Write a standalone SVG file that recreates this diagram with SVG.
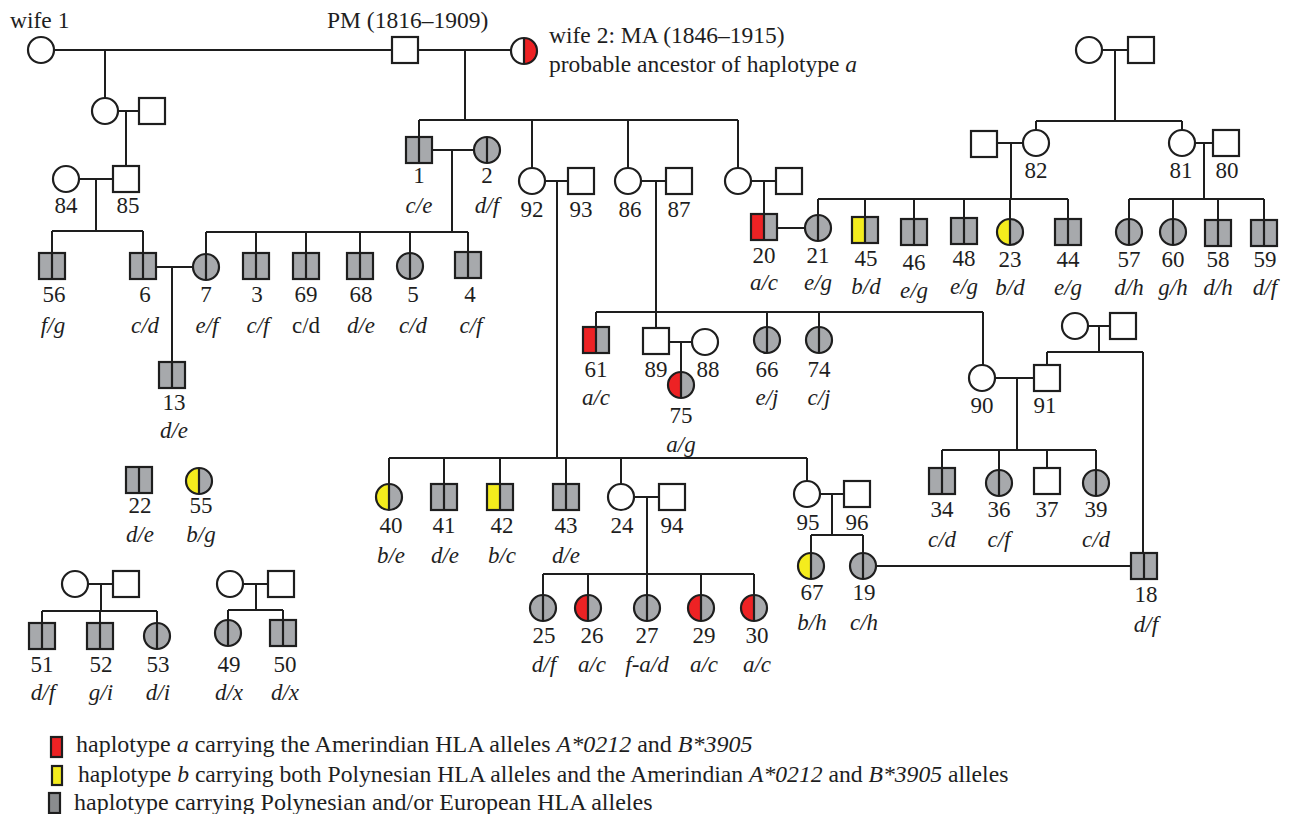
<svg xmlns="http://www.w3.org/2000/svg" width="1289" height="814" viewBox="0 0 1289 814" font-family="'Liberation Serif', 'Times New Roman', Times, serif">
<style>
.ln{stroke:#1e1e1e;stroke-width:2;fill:none}
.sym{stroke:#1e1e1e;stroke-width:2.2}
text{fill:#1e1e1e}
.num{font-size:23px;text-anchor:middle}
.al{font-size:23px;font-style:italic;text-anchor:middle}
.up{font-size:23px;text-anchor:middle}
.hd{font-size:23.5px}
.lg{font-size:24px}
.lg2{font-size:23.65px}
.it{font-style:italic}
</style>
<defs>
<g id="sqO"><rect x="-13" y="-13" width="26" height="26" fill="#fff" class="sym"/></g>
<g id="sqG"><rect x="-13" y="-13" width="26" height="26" fill="#a7a9ac" class="sym"/><line x1="0" y1="-13" x2="0" y2="13" class="sym"/></g>
<g id="sqR"><rect x="-13" y="-13" width="26" height="26" fill="#a7a9ac"/><rect x="-13" y="-13" width="13" height="26" fill="#ed2224"/><rect x="-13" y="-13" width="26" height="26" fill="none" class="sym"/><line x1="0" y1="-13" x2="0" y2="13" class="sym"/></g>
<g id="sqY"><rect x="-13" y="-13" width="26" height="26" fill="#a7a9ac"/><rect x="-13" y="-13" width="13" height="26" fill="#f4ec1d"/><rect x="-13" y="-13" width="26" height="26" fill="none" class="sym"/><line x1="0" y1="-13" x2="0" y2="13" class="sym"/></g>
<g id="ciO"><circle r="13" fill="#fff" class="sym"/></g>
<g id="ciG"><circle r="13" fill="#a7a9ac" class="sym"/><line x1="0" y1="-13" x2="0" y2="13" class="sym"/></g>
<g id="ciR"><circle r="13" fill="#a7a9ac"/><path d="M0,-13 A13,13 0 0 0 0,13 Z" fill="#ed2224"/><circle r="13" fill="none" class="sym"/><line x1="0" y1="-13" x2="0" y2="13" class="sym"/></g>
<g id="ciY"><circle r="13" fill="#a7a9ac"/><path d="M0,-13 A13,13 0 0 0 0,13 Z" fill="#f4ec1d"/><circle r="13" fill="none" class="sym"/><line x1="0" y1="-13" x2="0" y2="13" class="sym"/></g>
<g id="ciWR"><circle r="13" fill="#fff"/><path d="M0,-13 A13,13 0 0 1 0,13 Z" fill="#ed2224"/><circle r="13" fill="none" class="sym"/><line x1="0" y1="-13" x2="0" y2="13" class="sym"/></g>
</defs>
<rect width="1289" height="814" fill="#fff"/>

<g id="connectors" class="ln">
<path d="M54,50H392 M105,50V98 M118,111H139 M126,111V166 M79,179H113 M96,179V231 M52,231H143 M52,231V253 M143,231V253 M156,267H193 M172,267V362"/>
<path d="M418,50H511 M465,50V120 M419,120H738 M419,120V137 M532,120V168 M628,120V168 M738,120V168"/>
<path d="M432,150H474 M452,150V232 M206,232H468 M206,232V254 M256,232V253 M306,232V253 M360,232V253 M410,232V253 M468,232V252"/>
<path d="M545,181H568 M557,181V458 M641,181H666 M656,181V328 M751,181H776 M764,181V214 M777,228H805"/>
<path d="M1102,50H1128 M1115,50V121 M1036,121H1182 M1036,121V130 M1182,121V130 M997,143H1023 M1011,143V199 M818,199H1068 M818,199V215 M865,199V217 M914,199V219 M964,199V218 M1010,199V219 M1068,199V219"/>
<path d="M1195,143H1213 M1204,143V199 M1129,199H1264 M1129,199V219 M1173,199V219 M1218,199V220 M1264,199V220"/>
<path d="M596,312H983 M596,312V327 M767,312V327 M819,312V327 M983,312V365 M669,342H692 M681,342V372"/>
<path d="M995,378H1034 M1017,378V450 M942,450H1096 M942,450V468 M999,450V470 M1047,450V468 M1096,450V470 M1088,326H1110 M1099,326V352 M1047,352H1143 M1047,352V365 M1143,352V553"/>
<path d="M389,458H807 M389,458V484 M444,458V484 M500,458V484 M566,458V484 M621,458V484 M807,458V481 M634,497H659 M647,497V574 M543,574H754 M543,574V595 M588,574V595 M647,574V595 M701,574V595 M754,574V595"/>
<path d="M820,494H844 M832,494V535 M811,535H863 M811,535V553 M863,535V553 M876,566H1131"/>
<path d="M88,584H113 M101,584V611 M42,611H157 M42,611V623 M100,611V623 M157,611V623 M243,584H268 M256,584V610 M228,610H283 M228,610V620 M283,610V620"/>
</g>

<g id="wife1"><use href="#ciO" x="41" y="50"/><text class="hd" x="10" y="28">wife 1</text></g>
<g id="PM"><use href="#sqO" x="405" y="50"/><text class="hd" x="327" y="28">PM (1816–1909)</text></g>
<g id="wife2"><use href="#ciWR" x="524" y="51"/><text class="hd" x="549" y="43">wife 2: MA (1846–1915)</text><text class="hd" x="549" y="72">probable ancestor of haplotype <tspan class="it">a</tspan></text></g>

<g id="w1dau"><use href="#ciO" x="105" y="111"/></g>
<g id="w1dauH"><use href="#sqO" x="152" y="111"/></g>
<g id="n84"><use href="#ciO" x="66" y="179"/><text class="num" x="66" y="213">84</text></g>
<g id="n85"><use href="#sqO" x="126" y="179"/><text class="num" x="128" y="213">85</text></g>
<g id="n56"><use href="#sqG" x="52" y="266"/><text class="num" x="54" y="302">56</text><text class="al" x="53" y="333">f/g</text></g>
<g id="n6"><use href="#sqG" x="143" y="266"/><text class="num" x="145" y="302">6</text><text class="al" x="145" y="333">c/d</text></g>
<g id="n7"><use href="#ciG" x="206" y="267"/><text class="num" x="206" y="302">7</text><text class="al" x="207" y="333">e/f</text></g>
<g id="n3"><use href="#sqG" x="256" y="266"/><text class="num" x="257" y="302">3</text><text class="al" x="258" y="333">c/f</text></g>
<g id="n69"><use href="#sqG" x="306" y="266"/><text class="num" x="306" y="302">69</text><text class="up" x="306" y="333">c/d</text></g>
<g id="n68"><use href="#sqG" x="360" y="266"/><text class="num" x="361" y="302">68</text><text class="al" x="361" y="333">d/e</text></g>
<g id="n5"><use href="#ciG" x="410" y="266"/><text class="num" x="413" y="302">5</text><text class="al" x="413" y="333">c/d</text></g>
<g id="n4"><use href="#sqG" x="468" y="265"/><text class="num" x="470" y="302">4</text><text class="al" x="471" y="333">c/f</text></g>
<g id="n13"><use href="#sqG" x="172" y="375"/><text class="num" x="174" y="410">13</text><text class="al" x="174" y="438">d/e</text></g>

<g id="n1"><use href="#sqG" x="419" y="150"/><text class="num" x="419" y="183">1</text><text class="al" x="419" y="213">c/e</text></g>
<g id="n2"><use href="#ciG" x="487" y="150"/><text class="num" x="487" y="183">2</text><text class="al" x="487" y="213">d/f</text></g>
<g id="n92"><use href="#ciO" x="532" y="181"/><text class="num" x="532" y="217">92</text></g>
<g id="n93"><use href="#sqO" x="581" y="181"/><text class="num" x="581" y="217">93</text></g>
<g id="n86"><use href="#ciO" x="628" y="181"/><text class="num" x="630" y="217">86</text></g>
<g id="n87"><use href="#sqO" x="679" y="181"/><text class="num" x="679" y="217">87</text></g>
<g id="MAdau"><use href="#ciO" x="738" y="181"/></g>
<g id="MAdauH"><use href="#sqO" x="789" y="181"/></g>
<g id="n20"><use href="#sqR" x="764" y="227"/><text class="num" x="764" y="263">20</text><text class="al" x="764" y="290">a/c</text></g>
<g id="n21"><use href="#ciG" x="818" y="228"/><text class="num" x="818" y="263">21</text><text class="al" x="818" y="290">e/g</text></g>

<g id="tr1"><use href="#ciO" x="1089" y="50"/></g>
<g id="tr2"><use href="#sqO" x="1141" y="50"/></g>
<g id="n82H"><use href="#sqO" x="984" y="144"/></g>
<g id="n82"><use href="#ciO" x="1036" y="143"/><text class="num" x="1036" y="178">82</text></g>
<g id="n81"><use href="#ciO" x="1182" y="143"/><text class="num" x="1181" y="178">81</text></g>
<g id="n80"><use href="#sqO" x="1226" y="143"/><text class="num" x="1227" y="178">80</text></g>
<g id="n45"><use href="#sqY" x="865" y="230"/><text class="num" x="866" y="266">45</text><text class="al" x="866" y="294">b/d</text></g>
<g id="n46"><use href="#sqG" x="914" y="232"/><text class="num" x="914" y="270">46</text><text class="al" x="914" y="298">e/g</text></g>
<g id="n48"><use href="#sqG" x="964" y="231"/><text class="num" x="964" y="266">48</text><text class="al" x="964" y="294">e/g</text></g>
<g id="n23"><use href="#ciY" x="1010" y="232"/><text class="num" x="1010" y="267">23</text><text class="al" x="1010" y="295">b/d</text></g>
<g id="n44"><use href="#sqG" x="1068" y="232"/><text class="num" x="1068" y="267">44</text><text class="al" x="1068" y="295">e/g</text></g>
<g id="n57"><use href="#ciG" x="1129" y="232"/><text class="num" x="1129" y="267">57</text><text class="al" x="1129" y="295">d/h</text></g>
<g id="n60"><use href="#ciG" x="1173" y="232"/><text class="num" x="1173" y="267">60</text><text class="al" x="1173" y="295">g/h</text></g>
<g id="n58"><use href="#sqG" x="1218" y="233"/><text class="num" x="1218" y="267">58</text><text class="al" x="1218" y="295">d/h</text></g>
<g id="n59"><use href="#sqG" x="1264" y="233"/><text class="num" x="1265" y="267">59</text><text class="al" x="1265" y="295">d/f</text></g>

<g id="n61"><use href="#sqR" x="596" y="340"/><text class="num" x="596" y="377">61</text><text class="al" x="596" y="405">a/c</text></g>
<g id="n89"><use href="#sqO" x="656" y="341"/><text class="num" x="656" y="377">89</text></g>
<g id="n88"><use href="#ciO" x="705" y="342"/><text class="num" x="708" y="377">88</text></g>
<g id="n75"><use href="#ciR" x="681" y="385"/><text class="num" x="681" y="423">75</text><text class="al" x="681" y="452">a/g</text></g>
<g id="n66"><use href="#ciG" x="767" y="340"/><text class="num" x="767" y="377">66</text><text class="al" x="767" y="405">e/j</text></g>
<g id="n74"><use href="#ciG" x="819" y="340"/><text class="num" x="819" y="377">74</text><text class="al" x="819" y="405">c/j</text></g>
<g id="n90"><use href="#ciO" x="982" y="378"/><text class="num" x="982" y="413">90</text></g>
<g id="n91"><use href="#sqO" x="1047" y="378"/><text class="num" x="1045" y="413">91</text></g>
<g id="p91a"><use href="#ciO" x="1075" y="326"/></g>
<g id="p91b"><use href="#sqO" x="1123" y="326"/></g>
<g id="n34"><use href="#sqG" x="942" y="481"/><text class="num" x="942" y="517">34</text><text class="al" x="942" y="547">c/d</text></g>
<g id="n36"><use href="#ciG" x="999" y="483"/><text class="num" x="999" y="517">36</text><text class="al" x="999" y="547">c/f</text></g>
<g id="n37"><use href="#sqO" x="1047" y="481"/><text class="num" x="1047" y="517">37</text></g>
<g id="n39"><use href="#ciG" x="1096" y="483"/><text class="num" x="1096" y="517">39</text><text class="al" x="1096" y="547">c/d</text></g>
<g id="n18"><use href="#sqG" x="1144" y="566"/><text class="num" x="1146" y="602">18</text><text class="al" x="1146" y="632">d/f</text></g>

<g id="n40"><use href="#ciY" x="389" y="497"/><text class="num" x="391" y="533">40</text><text class="al" x="391" y="563">b/e</text></g>
<g id="n41"><use href="#sqG" x="444" y="497"/><text class="num" x="444" y="533">41</text><text class="al" x="445" y="563">d/e</text></g>
<g id="n42"><use href="#sqY" x="500" y="497"/><text class="num" x="502" y="533">42</text><text class="al" x="502" y="563">b/c</text></g>
<g id="n43"><use href="#sqG" x="566" y="497"/><text class="num" x="566" y="533">43</text><text class="al" x="566" y="563">d/e</text></g>
<g id="n24"><use href="#ciO" x="621" y="497"/><text class="num" x="622" y="533">24</text></g>
<g id="n94"><use href="#sqO" x="672" y="497"/><text class="num" x="672" y="533">94</text></g>
<g id="n25"><use href="#ciG" x="543" y="608"/><text class="num" x="544" y="643">25</text><text class="al" x="544" y="672">d/f</text></g>
<g id="n26"><use href="#ciR" x="588" y="608"/><text class="num" x="592" y="643">26</text><text class="al" x="592" y="672">a/c</text></g>
<g id="n27"><use href="#ciG" x="647" y="608"/><text class="num" x="647" y="643">27</text><text class="al" x="647" y="672">f-a/d</text></g>
<g id="n29"><use href="#ciR" x="701" y="608"/><text class="num" x="704" y="643">29</text><text class="al" x="704" y="672">a/c</text></g>
<g id="n30"><use href="#ciR" x="754" y="608"/><text class="num" x="757" y="643">30</text><text class="al" x="757" y="672">a/c</text></g>
<g id="n95"><use href="#ciO" x="807" y="494"/><text class="num" x="808" y="530">95</text></g>
<g id="n96"><use href="#sqO" x="857" y="494"/><text class="num" x="857" y="530">96</text></g>
<g id="n67"><use href="#ciY" x="811" y="566"/><text class="num" x="812" y="600">67</text><text class="al" x="812" y="630">b/h</text></g>
<g id="n19"><use href="#ciG" x="863" y="566"/><text class="num" x="864" y="600">19</text><text class="al" x="864" y="630">c/h</text></g>

<g id="n22"><use href="#sqG" x="139" y="480"/><text class="num" x="140" y="513">22</text><text class="al" x="140" y="542">d/e</text></g>
<g id="n55"><use href="#ciY" x="199" y="481"/><text class="num" x="201" y="513">55</text><text class="al" x="201" y="542">b/g</text></g>
<g id="blA"><use href="#ciO" x="75" y="584"/></g>
<g id="blB"><use href="#sqO" x="126" y="584"/></g>
<g id="n51"><use href="#sqG" x="42" y="636"/><text class="num" x="42" y="672">51</text><text class="al" x="43" y="700">d/f</text></g>
<g id="n52"><use href="#sqG" x="100" y="636"/><text class="num" x="101" y="672">52</text><text class="al" x="101" y="700">g/i</text></g>
<g id="n53"><use href="#ciG" x="157" y="636"/><text class="num" x="158" y="672">53</text><text class="al" x="158" y="700">d/i</text></g>
<g id="bmA"><use href="#ciO" x="230" y="584"/></g>
<g id="bmB"><use href="#sqO" x="281" y="584"/></g>
<g id="n49"><use href="#ciG" x="228" y="633"/><text class="num" x="229" y="672">49</text><text class="al" x="229" y="700">d/x</text></g>
<g id="n50"><use href="#sqG" x="283" y="633"/><text class="num" x="285" y="672">50</text><text class="al" x="285" y="700">d/x</text></g>

<g id="legend">
<rect x="51" y="737" width="11" height="20" fill="#ed2224" class="sym"/>
<text class="lg" x="76" y="752">haplotype <tspan class="it">a</tspan> carrying the Amerindian HLA alleles <tspan class="it">A*0212</tspan> and <tspan class="it">B*3905</tspan></text>
<rect x="52" y="766" width="10" height="19" fill="#f4ec1d" class="sym"/>
<text class="lg2" x="78" y="782">haplotype <tspan class="it">b</tspan> carrying both Polynesian HLA alleles and the Amerindian <tspan class="it">A*0212</tspan> and <tspan class="it">B*3905</tspan> alleles</text>
<rect x="49" y="793" width="11" height="20" fill="#8a8c8e" class="sym"/>
<text class="lg" x="74" y="810">haplotype carrying Polynesian and/or European HLA alleles</text>
</g>
</svg>
